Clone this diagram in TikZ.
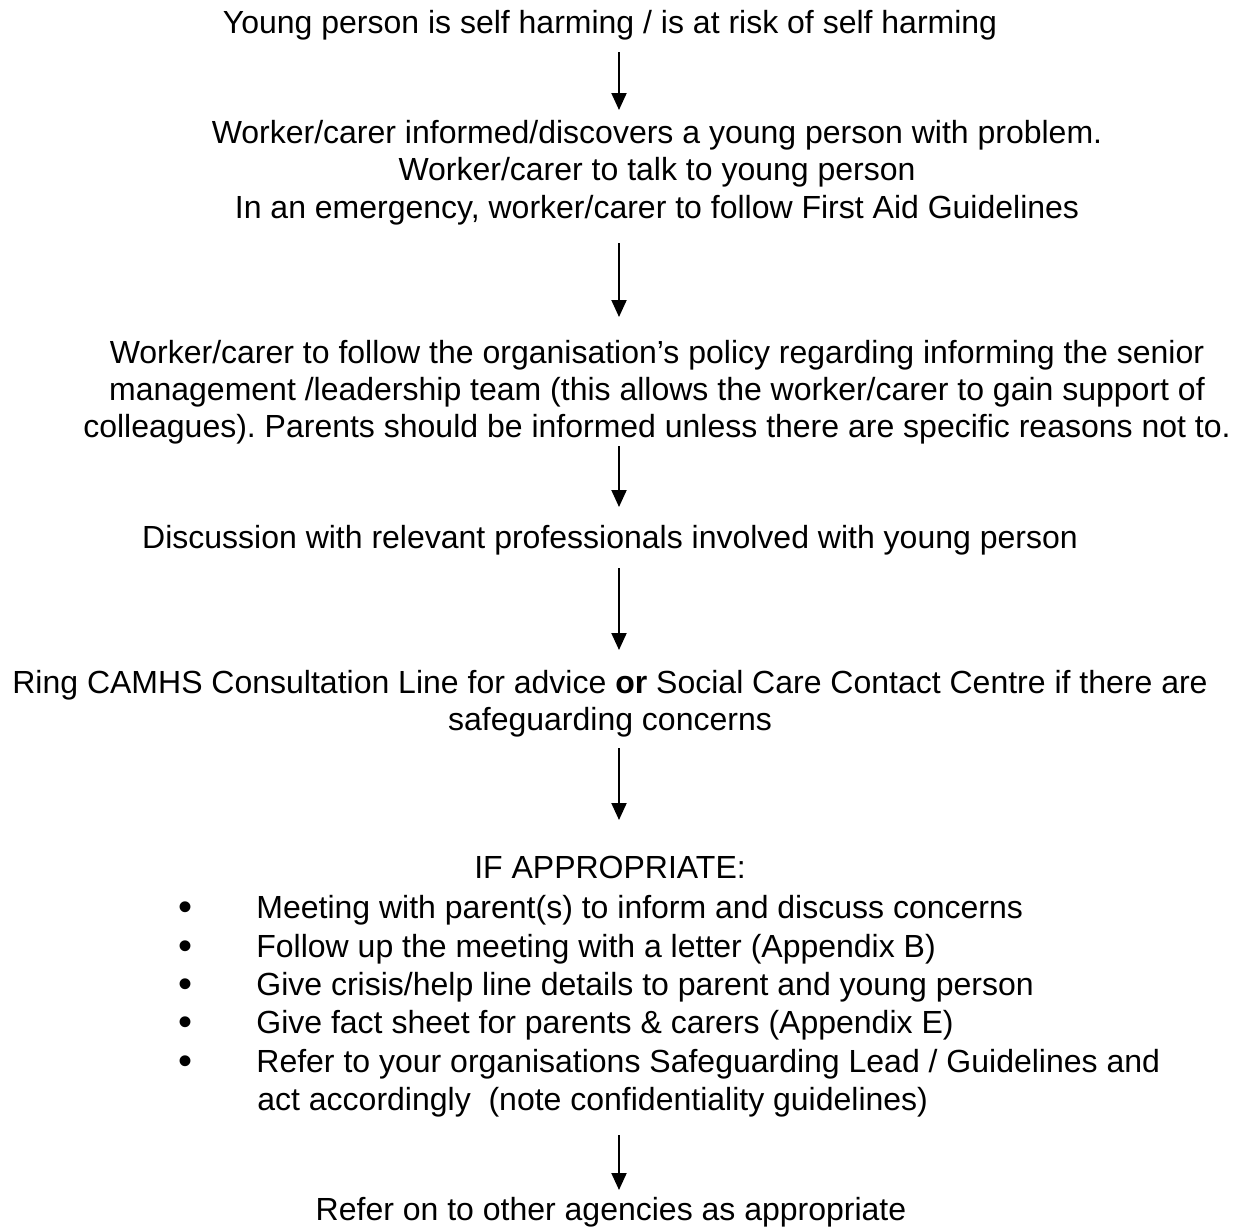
\documentclass[tikz,border=0pt]{standalone}
\usepackage{fontspec}
\setmainfont{Liberation Sans}
\usetikzlibrary{arrows.meta}
\frenchspacing
\begin{document}
\begin{tikzpicture}[x=0.5pt,y=-0.5pt,
  txt/.style={inner sep=0pt, anchor=base, font=\fontsize{16}{18.5}\selectfont},
  ltxt/.style={inner sep=0pt, anchor=base west, font=\fontsize{16}{18.5}\selectfont},
  bul/.style={inner sep=0pt, anchor=base west, yshift=-1.2pt, font=\fontsize{20}{20}\selectfont},
  arr/.style={line width=1pt, -{Triangle[width=7.5pt,length=8.5pt]}}]
\useasboundingbox (0,0) rectangle (1241,1227);
% step 1
\node[txt] (t1) at (610,33) {Young person is self harming / is at risk of self harming};
% step 2
\node[txt] (t2a) at (657,143) {Worker/carer informed/discovers a young person with problem.};
\node[txt] (t2b) at (657,180) {Worker/carer to talk to young person};
\node[txt] (t2c) at (657,218) {In an emergency, worker/carer to follow First Aid Guidelines};
% step 3
\node[txt] (t3a) at (657,363) {Worker/carer to follow the organisation’s policy regarding informing the senior};
\node[txt] (t3b) at (657,400) {management /leadership team (this allows the worker/carer to gain support of};
\node[txt] (t3c) at (657,437) {colleagues). Parents should be informed unless there are specific reasons not to.};
% step 4
\node[txt] (t4) at (610,548) {Discussion with relevant professionals involved with young person};
% step 5
\node[txt] (t5a) at (610,693) {Ring CAMHS Consultation Line for advice \textbf{or} Social Care Contact Centre if there are};
\node[txt] (t5b) at (610,730) {safeguarding concerns};
% step 6
\node[txt] (t6) at (610,878) {IF APPROPRIATE:};
\node[bul] (b1) at (178,918) {•};
\node[bul] (b2) at (178,957) {•};
\node[bul] (b3) at (178,995) {•};
\node[bul] (b4) at (178,1033) {•};
\node[bul] (b5) at (178,1072) {•};
\node[ltxt] (i1) at (256,918) {Meeting with parent(s) to inform and discuss concerns};
\node[ltxt] (i2) at (256,957) {Follow up the meeting with a letter (Appendix B)};
\node[ltxt] (i3) at (256,995) {Give crisis/help line details to parent and young person};
\node[ltxt] (i4) at (256,1033) {Give fact sheet for parents \& carers (Appendix E)};
\node[ltxt] (i5) at (256,1072) {Refer to your organisations Safeguarding Lead / Guidelines and};
\node[ltxt] (i6) at (257,1110) {act accordingly\ \ (note confidentiality guidelines)};
% step 7
\node[txt] (t7) at (611,1220) {Refer on to other agencies as appropriate};
% connectors
\coordinate (a1s) at (619,52);   \coordinate (a1e) at (619,110);
\coordinate (a2s) at (619,243);  \coordinate (a2e) at (619,317);
\coordinate (a3s) at (619,446);  \coordinate (a3e) at (619,507);
\coordinate (a4s) at (619,568);  \coordinate (a4e) at (619,650);
\coordinate (a5s) at (619,748);  \coordinate (a5e) at (619,820);
\coordinate (a6s) at (619,1135); \coordinate (a6e) at (619,1190);
\draw[arr] (a1s) -- (a1e);
\draw[arr] (a2s) -- (a2e);
\draw[arr] (a3s) -- (a3e);
\draw[arr] (a4s) -- (a4e);
\draw[arr] (a5s) -- (a5e);
\draw[arr] (a6s) -- (a6e);
\end{tikzpicture}
\end{document}
